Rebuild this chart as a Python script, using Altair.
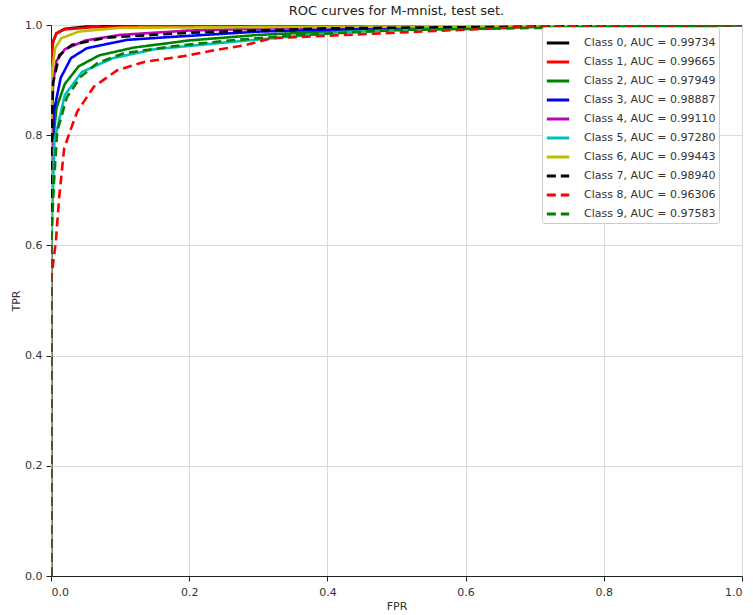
import altair as alt
import pandas as pd

labels = [
    "Class 0, AUC = 0.99734",
    "Class 1, AUC = 0.99665",
    "Class 2, AUC = 0.97949",
    "Class 3, AUC = 0.98887",
    "Class 4, AUC = 0.99110",
    "Class 5, AUC = 0.97280",
    "Class 6, AUC = 0.99443",
    "Class 7, AUC = 0.98940",
    "Class 8, AUC = 0.96306",
    "Class 9, AUC = 0.97583",
]
colors = ["#000000", "#ff0000", "#008000", "#0000ff", "#bf00bf",
          "#00bfbf", "#bfbf00", "#000000", "#ff0000", "#008000"]
dashes = [[1, 0]] * 7 + [[9, 5]] * 3

fpr0 = [0, 0, 0.001, 0.003, 0.008, 0.02, 0.05, 0.15, 1]
tpr0 = [0, 0.90, 0.95, 0.97, 0.985, 0.993, 0.997, 0.999, 1]
fpr1 = [0, 0, 0.001, 0.003, 0.008, 0.02, 0.06, 0.2, 1]
tpr1 = [0, 0.88, 0.94, 0.97, 0.985, 0.992, 0.996, 0.999, 1]
fpr2 = [0, 0, 0.003, 0.008, 0.02, 0.04, 0.07, 0.12, 0.2, 0.3, 0.4, 0.6, 1]
tpr2 = [0, 0.59, 0.79, 0.85, 0.893, 0.925, 0.945, 0.959, 0.972, 0.982, 0.988, 0.996, 1]
fpr3 = [0, 0, 0.004, 0.014, 0.029, 0.052, 0.11, 0.17, 0.3, 0.5, 1]
tpr3 = [0, 0.64, 0.842, 0.904, 0.94, 0.958, 0.973, 0.978, 0.988, 0.995, 1]
fpr4 = [0, 0, 0.003, 0.008, 0.02, 0.05, 0.1, 0.2, 0.4, 1]
tpr4 = [0, 0.75, 0.895, 0.935, 0.956, 0.972, 0.982, 0.99, 0.996, 1]
fpr5 = [0, 0, 0.005, 0.02, 0.045, 0.09, 0.15, 0.25, 0.33, 0.42, 0.6, 1]
tpr5 = [0, 0.59, 0.79, 0.873, 0.915, 0.94, 0.956, 0.968, 0.977, 0.987, 0.995, 1]
fpr6 = [0, 0, 0.002, 0.006, 0.015, 0.04, 0.1, 1]
tpr6 = [0, 0.8, 0.92, 0.958, 0.976, 0.988, 0.995, 1]
fpr7 = [0, 0, 0.003, 0.012, 0.03, 0.08, 0.2, 0.4, 1]
tpr7 = [0, 0.75, 0.895, 0.945, 0.964, 0.977, 0.986, 0.994, 1]
fpr8 = [0, 0, 0.007, 0.012, 0.019, 0.029, 0.038, 0.062, 0.096, 0.135, 0.19,
        0.24, 0.28, 0.32, 0.48, 0.7, 1]
tpr8 = [0, 0.535, 0.607, 0.689, 0.776, 0.812, 0.843, 0.888, 0.918, 0.933, 0.943,
        0.955, 0.963, 0.976, 0.985, 0.997, 1]
fpr9 = [0, 0, 0.004, 0.009, 0.023, 0.043, 0.067, 0.106, 0.174, 0.25, 0.35, 0.5, 1]
tpr9 = [0, 0.59, 0.709, 0.807, 0.869, 0.906, 0.931, 0.949, 0.961, 0.971, 0.981, 0.991, 1]

fprs = [fpr0, fpr1, fpr2, fpr3, fpr4, fpr5, fpr6, fpr7, fpr8, fpr9]
tprs = [tpr0, tpr1, tpr2, tpr3, tpr4, tpr5, tpr6, tpr7, tpr8, tpr9]

rows = []
for k, (fx, ty) in enumerate(zip(fprs, tprs)):
    for i, (a, b) in enumerate(zip(fx, ty)):
        rows.append({"label": labels[k], "cls": k, "FPR": a, "TPR": b, "ord": i})
df = pd.DataFrame(rows)

ticks = [0, 0.2, 0.4, 0.6, 0.8, 1.0]

chart = alt.Chart(df).mark_line(strokeWidth=2.6, clip=True).encode(
    x=alt.X("FPR:Q", scale=alt.Scale(domain=[0, 1], nice=False),
            axis=alt.Axis(values=ticks, format=".1f", title="FPR")),
    y=alt.Y("TPR:Q", scale=alt.Scale(domain=[0, 1], nice=False),
            axis=alt.Axis(values=ticks, format=".1f", title="TPR")),
    color=alt.Color("label:N", scale=alt.Scale(domain=labels, range=colors),
                    sort=labels, title=None,
                    legend=alt.Legend(orient="none", legendX=491, legendY=2,
                                      symbolType="stroke", symbolSize=500,
                                      symbolStrokeWidth=3, labelFontSize=11,
                                      labelColor="#333333", rowPadding=0,
                                      padding=3, fillColor="white",
                                      strokeColor="#cccccc", cornerRadius=2,
                                      labelOffset=13,
                                      labelFont="DejaVu Sans")),
    strokeDash=alt.StrokeDash("label:N", scale=alt.Scale(domain=labels, range=dashes),
                              sort=labels, title=None),
    order=alt.Order("ord:Q"),
    detail="cls:N",
).properties(
    width=691, height=551,
    title=alt.TitleParams("ROC curves for M-mnist, test set.", fontSize=13,
                          fontWeight="normal", font="DejaVu Sans", offset=1,
                          color="#222222"),
    autosize=alt.AutoSizeParams(type="none"),
    padding={"left": 51, "top": 25, "right": 11, "bottom": 39},
).configure_axis(
    grid=True, gridColor="#d9d9d9", gridWidth=1,
    domainColor="#222222", tickColor="#222222", tickSize=5,
    labelFont="DejaVu Sans", labelFontSize=11, labelColor="#333333",
    titleFont="DejaVu Sans", titleFontSize=11, titleFontWeight="normal",
    titleColor="#333333",
).configure_axisX(titlePadding=3, labelPadding=5).configure_axisY(
    titlePadding=3, labelPadding=4
).configure_view(stroke="#222222", strokeWidth=1)

chart.save("out.html", embed_options={"renderer": "svg", "actions": False})
